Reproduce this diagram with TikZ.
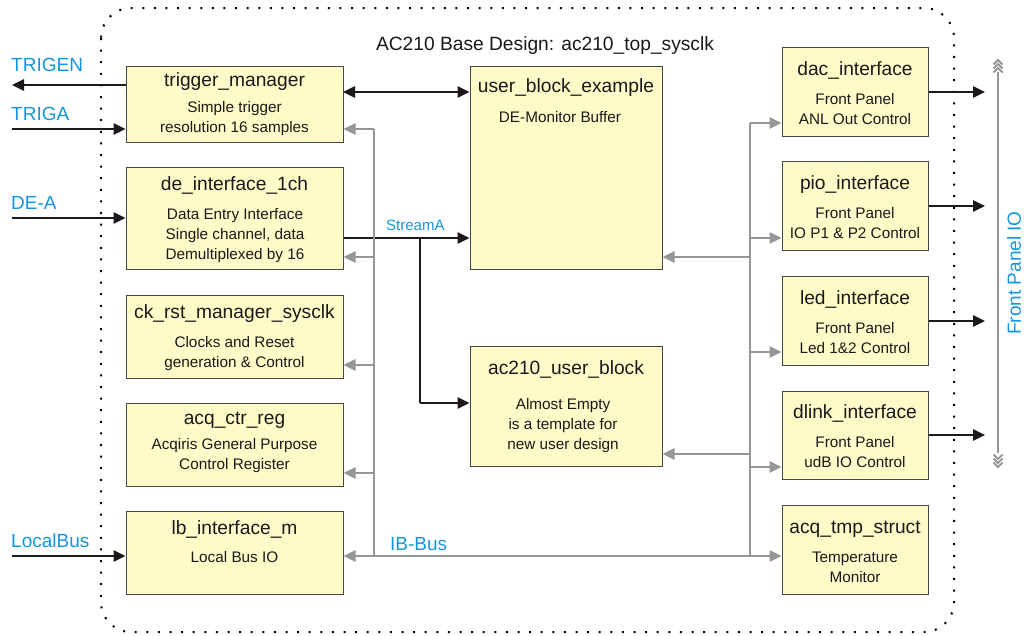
\documentclass[tikz,border=0pt]{standalone}
\usepackage{fontspec}
\setmainfont{Liberation Sans}
\usetikzlibrary{arrows.meta}
\definecolor{boxfill}{RGB}{255,251,200}
\definecolor{sigblue}{RGB}{20,150,220}
\definecolor{busgray}{RGB}{150,150,150}
\definecolor{linkblack}{RGB}{30,25,25}
\tikzset{
  box/.style={draw=black!72, fill=boxfill, line width=1pt, inner sep=0pt},
  ttl/.style={font=\fontsize{19.2}{22}\selectfont, inner sep=0pt, anchor=base, text=black!90},
  dsc/.style={font=\fontsize{15.3}{20}\selectfont, inner sep=0pt, anchor=base, text=black!90},
  lbl/.style={font=\fontsize{19}{22}\selectfont, inner sep=0pt, anchor=base west, text=sigblue},
  tip/.style={-{Triangle[length=12pt,width=11pt]}},
  blkarrow/.style={draw=linkblack, line width=2.7pt, tip},
  blkline/.style={draw=linkblack, line width=2.7pt},
  grayarrow/.style={draw=busgray, line width=2.7pt, tip},
  grayline/.style={draw=busgray, line width=2.7pt},
  chev/.style={draw=busgray, line width=1.8pt},
}
\begin{document}
\begin{tikzpicture}[x=1pt,y=-1pt]
\useasboundingbox (0,0) rectangle (1024,635);

% outer dotted frame
\draw[black, line width=2pt, dash pattern=on 2pt off 9.6pt, rounded corners=30pt]
  (101,8) rectangle (954,632);
\node[ttl] (title) at (545,50) {AC210 Base Design: ac210\_top\_sysclk};

% left column boxes
\node[box, minimum width=217pt, minimum height=76pt] (tm) at (234.5,104) {};
\node[ttl] (tmT) at (234.5,86.5) {trigger\_manager};
\node[dsc] (tmD1) at (234.5,112.5) {Simple trigger};
\node[dsc] (tmD2) at (234.5,132.5) {resolution 16 samples};

\node[box, minimum width=217pt, minimum height=102pt] (de) at (234.5,218) {};
\node[ttl] (deT) at (234.5,190.5) {de\_interface\_1ch};
\node[dsc] (deD1) at (235,219.5) {Data Entry Interface};
\node[dsc] (deD2) at (235,239.5) {Single channel, data};
\node[dsc] (deD3) at (235,259) {Demultiplexed by 16};

\node[box, minimum width=217pt, minimum height=83pt] (ck) at (234.5,336.5) {};
\node[ttl] (ckT) at (234.5,318.5) {ck\_rst\_manager\_sysclk};
\node[dsc] (ckD1) at (234.5,347.5) {Clocks and Reset};
\node[dsc] (ckD2) at (234.5,367.5) {generation \& Control};

\node[box, minimum width=217pt, minimum height=83pt] (acq) at (234.5,444.5) {};
\node[ttl] (acqT) at (234.5,424.5) {acq\_ctr\_reg};
\node[dsc] (acqD1) at (234.5,449.5) {Acqiris General Purpose};
\node[dsc] (acqD2) at (234.5,469) {Control Register};

\node[box, minimum width=217pt, minimum height=83pt] (lb) at (234.5,552.5) {};
\node[ttl] (lbT) at (234.5,534.5) {lb\_interface\_m};
\node[dsc] (lbD1) at (234.5,562.5) {Local Bus IO};

% middle boxes
\node[box, minimum width=192pt, minimum height=203pt] (ube) at (566,167.5) {};
\node[ttl] (ubeT) at (566,92.5) {user\_block\_example};
\node[dsc] (ubeD1) at (560,122.5) {DE-Monitor Buffer};

\node[box, minimum width=192pt, minimum height=120pt] (aub) at (566,406) {};
\node[ttl] (aubT) at (566,374.5) {ac210\_user\_block};
\node[dsc] (aubD1) at (563,409.5) {Almost Empty};
\node[dsc] (aubD2) at (563,429.5) {is a template for};
\node[dsc] (aubD3) at (563,449.5) {new user design};

% right column boxes
\node[box, minimum width=146pt, minimum height=89pt] (dac) at (855,91.5) {};
\node[ttl] (dacT) at (855,75.5) {dac\_interface};
\node[dsc] (dacD1) at (855,104.5) {Front Panel};
\node[dsc] (dacD2) at (855,124.5) {ANL Out Control};

\node[box, minimum width=146pt, minimum height=89pt] (pio) at (855,205.5) {};
\node[ttl] (pioT) at (855,189.5) {pio\_interface};
\node[dsc] (pioD1) at (855,218) {Front Panel};
\node[dsc] (pioD2) at (855,238) {IO P1 \& P2 Control};

\node[box, minimum width=146pt, minimum height=89pt] (led) at (855,320.5) {};
\node[ttl] (ledT) at (855,304.5) {led\_interface};
\node[dsc] (ledD1) at (855,333.5) {Front Panel};
\node[dsc] (ledD2) at (855,353.5) {Led 1\&2 Control};

\node[box, minimum width=146pt, minimum height=88pt] (dlk) at (855,435) {};
\node[ttl] (dlkT) at (855,418.5) {dlink\_interface};
\node[dsc] (dlkD1) at (855,447.5) {Front Panel};
\node[dsc] (dlkD2) at (855,467.5) {udB IO Control};

\node[box, minimum width=146pt, minimum height=89pt] (tmp) at (855,549.5) {};
\node[ttl] (tmpT) at (855,533.5) {acq\_tmp\_struct};
\node[dsc] (tmpD1) at (855,562.5) {Temperature};
\node[dsc] (tmpD2) at (855,582.5) {Monitor};

% external signal labels
\node[lbl] (lTrigen) at (11,71) {TRIGEN};
\node[lbl] (lTriga) at (11,120) {TRIGA};
\node[lbl] (lDeA) at (11,209) {DE-A};
\node[lbl] (lLocal) at (11,547) {LocalBus};
\node[lbl] (lIB) at (390,550) {IB-Bus};
\node[lbl, font=\fontsize{15}{18}\selectfont] (lStream) at (386,230.5) {StreamA};
\node[font=\fontsize{19}{22}\selectfont, text=sigblue, rotate=90, inner sep=0pt] (lFP) at (1014,273) {Front Panel IO};

% free ends / junctions
\coordinate (trigenEnd) at (12,85);
\coordinate (trigaStart) at (12,129);
\coordinate (deaStart) at (12,218);
\coordinate (localStart) at (12,556);
\coordinate (tmLink) at (343,92);
\coordinate (streamY) at (343,238);
\coordinate (branch) at (420,238);
\coordinate (branchDown) at (420,403);
\coordinate (lbusTop) at (374,129);
\coordinate (lbusDe) at (374,257);
\coordinate (lbusCk) at (374,365);
\coordinate (lbusAcq) at (374,473);
\coordinate (lbusBot) at (374,556);
\coordinate (rbusTop) at (750,123);
\coordinate (rbusPio) at (750,238);
\coordinate (rbusUbe) at (750,257);
\coordinate (rbusLed) at (750,352);
\coordinate (rbusAub) at (750,454);
\coordinate (rbusDlk) at (750,467);
\coordinate (rbusBot) at (750,556);
\coordinate (fpDac) at (985,92);
\coordinate (fpPio) at (985,206);
\coordinate (fpLed) at (985,321);
\coordinate (fpDlk) at (985,435);
\coordinate (fpTop) at (998,72);
\coordinate (fpBot) at (998,453);

% black connectors
\draw[blkarrow] (tm.west |- trigenEnd) -- (trigenEnd);
\draw[blkarrow] (trigaStart) -- (tm.west |- trigaStart);
\draw[blkarrow] (deaStart) -- (de.west |- deaStart);
\draw[blkarrow] (localStart) -- (lb.west |- localStart);
\draw[blkarrow, {Triangle[length=12pt,width=11pt]}-{Triangle[length=12pt,width=11pt]}] (tmLink) -- (ube.west |- tmLink);
\draw[blkarrow] (de.east |- streamY) -- (ube.west |- streamY);
\draw[blkline] (branch) -- (branchDown);
\draw[blkarrow] (branchDown) -- (aub.west |- branchDown);
\draw[blkarrow] (dac.east |- fpDac) -- (fpDac);
\draw[blkarrow] (pio.east |- fpPio) -- (fpPio);
\draw[blkarrow] (led.east |- fpLed) -- (fpLed);
\draw[blkarrow] (dlk.east |- fpDlk) -- (fpDlk);

% gray buses
\draw[grayline] (lbusTop) -- (lbusBot);
\draw[grayarrow] (lbusTop) -- (tm.east |- lbusTop);
\draw[grayarrow] (lbusDe) -- (de.east |- lbusDe);
\draw[grayarrow] (lbusCk) -- (ck.east |- lbusCk);
\draw[grayarrow] (lbusAcq) -- (acq.east |- lbusAcq);
\draw[grayarrow, {Triangle[length=12pt,width=11pt]}-{Triangle[length=12pt,width=11pt]}] (lb.east |- lbusBot) -- (tmp.west |- rbusBot);
\draw[grayline] (rbusTop) -- (rbusBot);
\draw[grayarrow] (rbusTop) -- (dac.west |- rbusTop);
\draw[grayarrow] (rbusPio) -- (pio.west |- rbusPio);
\draw[grayarrow] (rbusLed) -- (led.west |- rbusLed);
\draw[grayarrow] (rbusDlk) -- (dlk.west |- rbusDlk);
\draw[grayarrow] (rbusUbe) -- (ube.east |- rbusUbe);
\draw[grayarrow] (rbusAub) -- (aub.east |- rbusAub);

% front panel IO line with chevrons
\draw[grayline] (fpTop) -- (fpBot);
\foreach \i in {0,1,2} {
  \draw[chev] ([shift={(-4.5,4.5+4*\i)}]998,60) -- ([shift={(0,4*\i)}]998,60) -- ([shift={(4.5,4.5+4*\i)}]998,60);
  \draw[chev] ([shift={(-4.5,-4.5-4*\i)}]998,467) -- ([shift={(0,-4*\i)}]998,467) -- ([shift={(4.5,-4.5-4*\i)}]998,467);
}
\end{tikzpicture}
\end{document}
